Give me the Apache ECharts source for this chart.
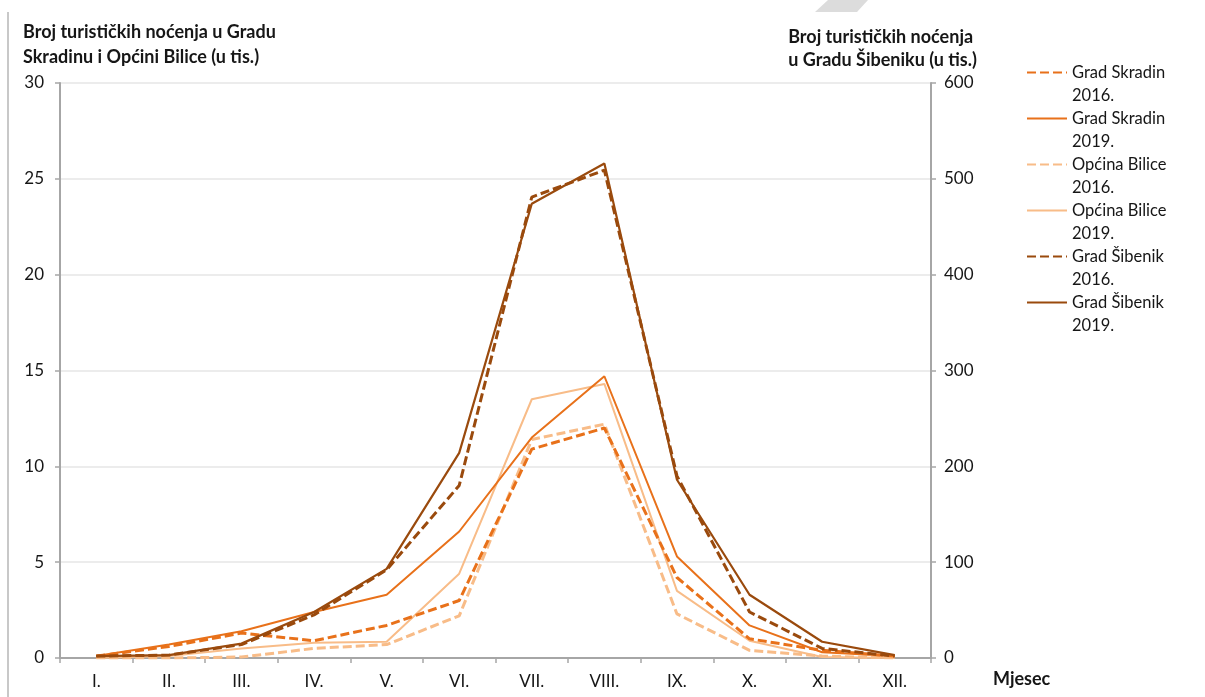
<!DOCTYPE html>
<html>
<head>
<meta charset="utf-8">
<script src="https://cdn.jsdelivr.net/npm/echarts@6/dist/echarts.min.js"></script>
<style>
html,body{margin:0;padding:0;background:#fff;}
#chart{width:1205px;height:697px;}
</style>
</head>
<body>
<div id="chart"></div>
<script>
const months = ['I.', 'II.', 'III.', 'IV.', 'V.', 'VI.', 'VII.', 'VIII.', 'IX.', 'X.', 'XI.', 'XII.'];
const skradin2016 = [0.1, 0.6, 1.3, 0.9, 1.7, 3.0, 10.9, 12.0, 4.2, 1.0, 0.4, 0.1];
const skradin2019 = [0.1, 0.7, 1.4, 2.4, 3.3, 6.6, 11.5, 14.7, 5.3, 1.7, 0.3, 0.1];
const bilice2016 = [0.0, 0.0, 0.05, 0.5, 0.7, 2.2, 11.4, 12.2, 2.3, 0.4, 0.1, 0.0];
const bilice2019 = [0.0, 0.1, 0.5, 0.8, 0.85, 4.4, 13.5, 14.3, 3.5, 0.9, 0.05, 0.0];
const sibenik2016 = [2, 3, 14, 45, 92, 180, 481, 509, 190, 48, 10, 2];
const sibenik2019 = [2, 3, 15, 48, 93, 214, 474, 516, 186, 66, 17, 3];
const leftTicks = [0, 5, 10, 15, 20, 25, 30];
const rightTicks = [0, 100, 200, 300, 400, 500, 600];

const C_SKR = '#E8711A';
const C_BIL = '#F8BC88';
const C_SIB = '#9A4A0D';
const FONT = 'Lato';
const TXT = '#161616';

const chart = echarts.init(document.getElementById('chart'));

function ser(name, data, color, dashed, width, axis) {
  return {
    name: name, type: 'line', data: data, yAxisIndex: axis,
    symbol: 'none', smooth: false,
    lineStyle: { color: color, width: width, type: dashed ? [9, 4] : 'solid' },
    itemStyle: { color: color },
    emphasis: { disabled: true }
  };
}

chart.setOption({
  animation: false,
  textStyle: { fontFamily: FONT },
  title: [
    { text: 'Broj turističkih noćenja u Gradu\nSkradinu i Općini Bilice (u tis.)',
      left: 18, top: 15,
      textStyle: { fontFamily: FONT, fontSize: 18, fontWeight: 'bold', color: TXT, lineHeight: 25 } },
    { text: 'Broj turističkih noćenja\nu Gradu Šibeniku (u tis.)',
      right: 223, top: 21,
      textStyle: { fontFamily: FONT, fontSize: 18, fontWeight: 'bold', color: TXT, lineHeight: 23, align: 'right' } }
  ],
  legend: {
    orient: 'vertical', left: 1021, top: 33,
    itemWidth: 40, itemHeight: 14, itemGap: -23,
    itemStyle: { opacity: 0 },
    formatter: function (name) { return '\n' + name; },
    textStyle: { fontFamily: FONT, fontSize: 16.5, color: TXT, lineHeight: 23 },
    data: ['Grad Skradin\n2016.', 'Grad Skradin\n2019.', 'Općina Bilice\n2016.', 'Općina Bilice\n2019.', 'Grad Šibenik\n2016.', 'Grad Šibenik\n2019.']
  },
  grid: { left: 60, right: 274, top: 83, bottom: 39, containLabel: false },
  xAxis: {
    type: 'category', data: months, boundaryGap: true,
    axisLine: { lineStyle: { color: '#a6a6a6', width: 2 } },
    axisTick: { show: true, length: 5, lineStyle: { color: '#a6a6a6', width: 1.5 } },
    axisLabel: { fontFamily: FONT, fontSize: 17, color: TXT, margin: 15 },
    splitLine: { show: false }
  },
  yAxis: [
    { type: 'value', min: 0, max: 30, interval: 5, position: 'left',
      axisLine: { show: true, lineStyle: { color: '#a6a6a6', width: 2 } },
      axisTick: { show: true, length: 5, lineStyle: { color: '#a6a6a6', width: 1.5 } },
      axisLabel: { fontFamily: FONT, fontSize: 17, color: TXT, margin: 16 },
      splitLine: { show: true, lineStyle: { color: '#e6e6e6', width: 1.5 } } },
    { type: 'value', min: 0, max: 600, interval: 100, position: 'right',
      axisLine: { show: true, lineStyle: { color: '#a6a6a6', width: 2 } },
      axisTick: { show: true, length: 5, lineStyle: { color: '#a6a6a6', width: 1.5 } },
      axisLabel: { fontFamily: FONT, fontSize: 17, color: TXT, margin: 13 },
      splitLine: { show: false } }
  ],
  graphic: [
    { type: 'line', shape: { x1: 8, y1: 12, x2: 8, y2: 697 }, style: { stroke: '#c8c8c8', lineWidth: 2 } },
    { type: 'polygon', shape: { points: [[828, 0], [868, 0], [857, 12], [815, 12]] }, style: { fill: '#dcdcdc' } },
    { type: 'text', left: 993, top: 670, style: { text: 'Mjesec', font: 'bold 18px Lato', fill: TXT } }
  ],
  series: [
    ser('Općina Bilice\n2016.', bilice2016, C_BIL, true, 3, 0),
    ser('Općina Bilice\n2019.', bilice2019, C_BIL, false, 2, 0),
    ser('Grad Skradin\n2016.', skradin2016, C_SKR, true, 3, 0),
    ser('Grad Skradin\n2019.', skradin2019, C_SKR, false, 2, 0),
    ser('Grad Šibenik\n2016.', sibenik2016, C_SIB, true, 3, 1),
    ser('Grad Šibenik\n2019.', sibenik2019, C_SIB, false, 2.2, 1)
  ]
});
</script>
</body>
</html>
